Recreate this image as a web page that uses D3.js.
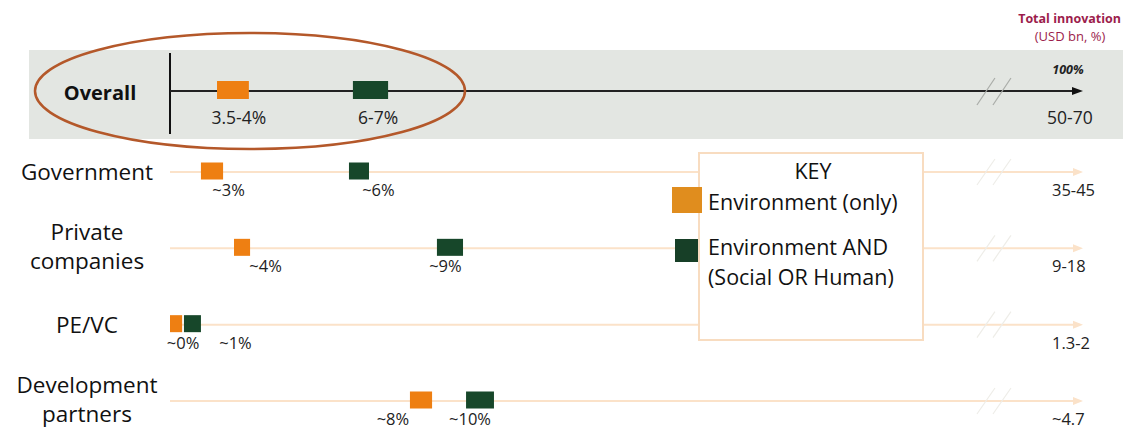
<!DOCTYPE html>
<html>
<head>
<meta charset="utf-8">
<script src="https://cdn.jsdelivr.net/npm/d3@7"></script>
<style>
  body { margin: 0; background: #fff; }
  #chart { display: block; font-family: "Open Sans", "Noto Sans", sans-serif; }
  #chart .row-line { stroke: #fbe2c9; stroke-width: 2; }
  #chart .brk { stroke: #eeede8; stroke-width: 1.2; }
  #chart .pct { font-size: 16.5px; fill: #222; text-anchor: middle; }
  #chart .total { font-size: 16.5px; fill: #222; }
  #chart .rowname { font-size: 22.5px; fill: #111; text-anchor: middle; }
  #chart .key { font-size: 21.5px; fill: #111; }
</style>
</head>
<body>
<svg id="chart" width="1123" height="429"></svg>
<script>
const rows = ["Government", "Private companies", "PE/VC", "Development partners"];
const rowLines = [["Government"], ["Private", "companies"], ["PE/VC"], ["Development", "partners"]];
const totals = ["35-45", "9-18", "1.3-2", "~4.7"];

const envOnly = [[1.02, 1.75], [2.11, 2.64], [0, 0.4], [7.91, 8.64]];
const envOnlyText = ["~3%", "~4%", "~0%", "~8%"];
const envOnlyTextAt = [1.93, 3.15, 0.43, 7.35];

const envAnd = [[5.9, 6.56], [8.8, 9.66], [0.46, 1.02], [9.76, 10.68]];
const envAndText = ["~6%", "~9%", "~1%", "~10%"];
const envAndTextAt = [6.87, 9.08, 2.16, 9.89];

const overallOnly = [1.55, 2.6];
const overallAnd = [6.03, 7.19];
const overallText = ["3.5-4%", "6-7%"];
const overallTextAt = [2.27, 6.86];
const overallTotal = "50-70";
const breakAt = 26.9;

const ORANGE = "#ee7f12";
const GREEN = "#17472a";
const PEACH = "#fbe2c9";

const svg = d3.select("#chart");

const x = d3.scaleLinear().domain([0, 30]).range([170, 1080]);
const y = d3.scalePoint().domain(rows).range([172, 401]);
const OVERALL_Y = 91;
const MARK_H = 17;
const END = x.range()[1];

/* Overall band */
svg.append("rect")
  .attr("x", 29).attr("y", 50)
  .attr("width", 1123 - 29).attr("height", 89)
  .attr("fill", "#e3e6e2");

svg.append("line")
  .attr("x1", x(0)).attr("x2", x(0))
  .attr("y1", 53).attr("y2", 134)
  .attr("stroke", "#111").attr("stroke-width", 2);

svg.append("line")
  .attr("x1", x(0)).attr("x2", END)
  .attr("y1", OVERALL_Y).attr("y2", OVERALL_Y)
  .attr("stroke", "#222").attr("stroke-width", 2);

svg.append("path")
  .attr("d", `M${END - 8},${OVERALL_Y - 4}L${END + 3},${OVERALL_Y}L${END - 8},${OVERALL_Y + 4}Z`)
  .attr("fill", "#111");

[0, 16].forEach((dx) => {
  svg.append("line")
    .attr("x1", x(breakAt) - 9 + dx).attr("y1", OVERALL_Y + 14)
    .attr("x2", x(breakAt) + 9 + dx).attr("y2", OVERALL_Y - 13)
    .attr("stroke", "#a9aca8").attr("stroke-width", 1.2);
});

svg.append("text")
  .attr("x", 100).attr("y", 100)
  .attr("text-anchor", "middle")
  .attr("font-size", 20).attr("font-weight", 700)
  .attr("fill", "#111")
  .text("Overall");

svg.append("text")
  .attr("x", 1068).attr("y", 74)
  .attr("text-anchor", "middle")
  .attr("font-size", 12.5).attr("font-weight", 700).attr("font-style", "italic")
  .attr("fill", "#222")
  .text("100%");

svg.append("text")
  .attr("x", 1047).attr("y", 124)
  .attr("font-size", 17.5).attr("fill", "#222")
  .text(overallTotal);

/* Header */
svg.append("text")
  .attr("x", 1121).attr("y", 23)
  .attr("text-anchor", "end")
  .attr("font-size", 12.5).attr("font-weight", 700)
  .attr("fill", "#9c1d4c")
  .text("Total innovation");

svg.append("text")
  .attr("x", 1070).attr("y", 41)
  .attr("text-anchor", "middle")
  .attr("font-size", 13)
  .attr("fill", "#9c1d4c")
  .text("(USD bn, %)");

/* Row lines */
const row = svg.append("g")
  .selectAll("g")
  .data(rows)
  .join("g")
  .attr("transform", (d) => `translate(0,${y(d)})`);

row.append("line")
  .attr("class", "row-line")
  .attr("x1", x(0)).attr("x2", END);

row.append("path")
  .attr("d", `M${END - 7},-4L${END + 3},0L${END - 7},4Z`)
  .attr("fill", PEACH);

row.selectAll("line.brk")
  .data([0, 16])
  .join("line")
  .attr("class", "brk")
  .attr("x1", (dx) => x(breakAt) - 9 + dx).attr("y1", 13)
  .attr("x2", (dx) => x(breakAt) + 9 + dx).attr("y2", -13);

row.append("text")
  .attr("class", "total")
  .attr("x", 1052).attr("y", 24)
  .text((d, i) => totals[i]);

row.append("text")
  .attr("class", "rowname")
  .attr("x", 87)
  .selectAll("tspan")
  .data((d, i) => rowLines[i].map((t, j, a) => ({ t, dy: a.length > 1 ? (j === 0 ? -8 : 21) : 8 })))
  .join("tspan")
  .attr("x", 87)
  .attr("y", (d) => d.dy)
  .text((d) => d.t);

/* Legend box (sits over the lines) */
const key = svg.append("g");
key.append("rect")
  .attr("x", 699).attr("y", 153)
  .attr("width", 224).attr("height", 187)
  .attr("fill", "#fff")
  .attr("stroke", "#f8dcc0").attr("stroke-width", 2);
key.append("text").attr("class", "key")
  .attr("x", 813).attr("y", 179).attr("text-anchor", "middle").text("KEY");
key.append("text").attr("class", "key")
  .attr("x", 708).attr("y", 210).text("Environment (only)");
key.append("text").attr("class", "key")
  .attr("x", 708).attr("y", 255).text("Environment AND");
key.append("text").attr("class", "key")
  .attr("x", 708).attr("y", 285).text("(Social OR Human)");
key.append("rect")
  .attr("x", 672).attr("y", 187).attr("width", 30).attr("height", 26)
  .attr("fill", "#e08d1e");
key.append("rect")
  .attr("x", 675).attr("y", 239).attr("width", 23).attr("height", 23)
  .attr("fill", "#173f27");

/* Markers */
const marks = [
  ...rows.map((r, i) => ({ cy: y(r), span: envOnly[i], color: ORANGE })),
  ...rows.map((r, i) => ({ cy: y(r), span: envAnd[i], color: GREEN })),
  { cy: OVERALL_Y, span: overallOnly, color: ORANGE, h: 18 },
  { cy: OVERALL_Y, span: overallAnd, color: GREEN, h: 18 },
];

svg.append("g")
  .selectAll("rect")
  .data(marks)
  .join("rect")
  .attr("x", (d) => x(d.span[0]))
  .attr("width", (d) => x(d.span[1]) - x(d.span[0]))
  .attr("y", (d) => d.cy - (d.h || MARK_H) / 2 - 1)
  .attr("height", (d) => d.h || MARK_H)
  .attr("fill", (d) => d.color);

const pctLabels = [
  ...rows.map((r, i) => ({ cy: y(r), at: envOnlyTextAt[i], t: envOnlyText[i] })),
  ...rows.map((r, i) => ({ cy: y(r), at: envAndTextAt[i], t: envAndText[i] })),
];

svg.append("g")
  .selectAll("text")
  .data(pctLabels)
  .join("text")
  .attr("class", "pct")
  .attr("x", (d) => x(d.at))
  .attr("y", (d) => d.cy + 24)
  .text((d) => d.t);

svg.append("g")
  .selectAll("text")
  .data(overallText)
  .join("text")
  .attr("x", (d, i) => x(overallTextAt[i]))
  .attr("y", 124)
  .attr("text-anchor", "middle")
  .attr("font-size", 17.5)
  .attr("fill", "#222")
  .text((d) => d);

/* Highlight ellipse */
svg.append("ellipse")
  .attr("cx", 250).attr("cy", 91)
  .attr("rx", 215).attr("ry", 58)
  .attr("fill", "none")
  .attr("stroke", "#b4582a").attr("stroke-width", 2.5);
</script>
</body>
</html>
